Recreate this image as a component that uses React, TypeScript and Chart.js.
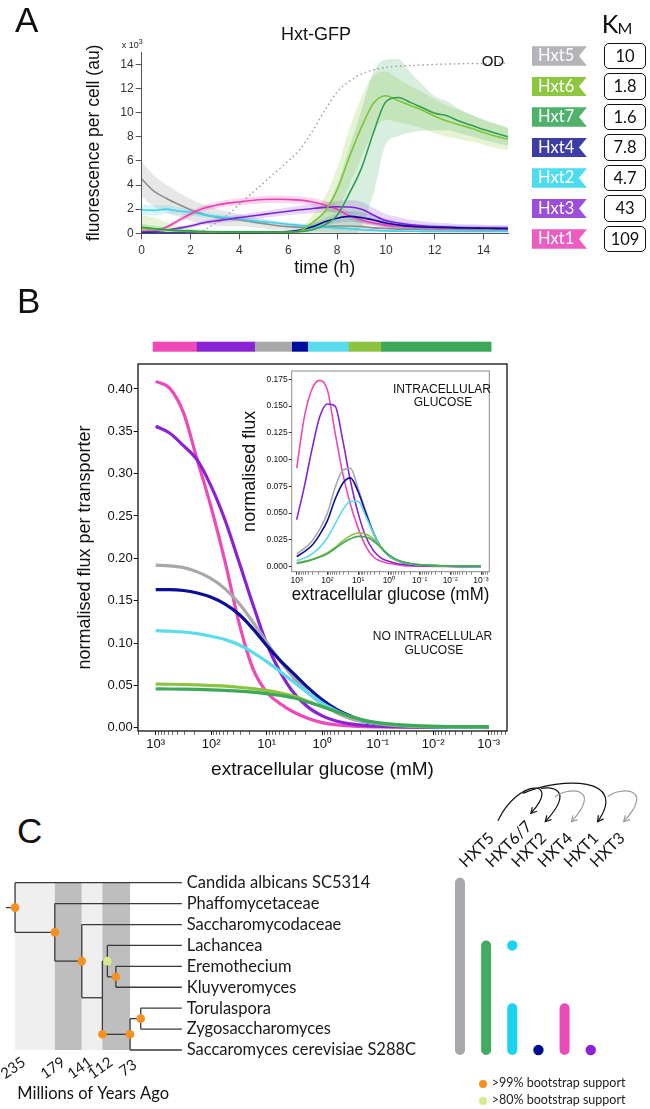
import React, { useEffect, useRef } from 'react';
import { Chart, registerables } from 'chart.js';

Chart.register(...registerables);

const SANS = 'Liberation Sans, Arial, sans-serif';
const LATO = 'Lato, sans-serif';

// ---------------- Panel A : Hxt-GFP time courses ----------------
const hours = [0, 0.5, 1, 1.5, 2, 2.5, 3, 3.5, 4, 4.5, 5, 5.5, 6, 6.5, 7, 7.5, 8, 8.5, 9, 9.5, 10, 10.5, 11, 11.5, 12, 12.5, 13, 13.5, 14, 14.5, 15];
const timeTicks = [0, 2, 4, 6, 8, 10, 12, 14];
const gfpTicks = [0, 2, 4, 6, 8, 10, 12, 14];

const gfpHxt5 = [4.5, 3.5, 2.9, 2.4, 1.95, 1.6, 1.35, 1.2, 1.1, 0.95, 0.8, 0.65, 0.55, 0.5, 0.5, 0.55, 0.6, 0.6, 0.55, 0.45, 0.4, 0.35, 0.35, 0.33, 0.32, 0.32, 0.3, 0.3, 0.3, 0.3, 0.3];
const sdHxt5 = [1.4, 1.3, 1.15, 1.0, 0.9, 0.8, 0.7, 0.6, 0.5, 0.45, 0.4, 0.35, 0.3, 0.3, 0.35, 0.45, 0.55, 0.6, 0.5, 0.4, 0.3, 0.25, 0.25, 0.2, 0.2, 0.2, 0.2, 0.2, 0.2, 0.2, 0.2];
const gfpHxt6 = [0.4, 0.3, 0.25, 0.2, 0.15, 0.12, 0.1, 0.1, 0.1, 0.1, 0.1, 0.1, 0.1, 0.2, 0.9, 1.8, 3.6, 6.3, 8.8, 10.8, 11.4, 11.0, 10.6, 10.2, 9.7, 9.3, 9.0, 8.7, 8.35, 8.05, 7.8];
const sdHxt6 = [1.1, 1.0, 0.7, 0.45, 0.3, 0.2, 0.15, 0.1, 0.1, 0.1, 0.1, 0.1, 0.1, 0.2, 0.6, 1.2, 1.8, 2.3, 2.5, 2.3, 2.0, 1.8, 1.6, 1.5, 1.4, 1.3, 1.2, 1.1, 1.0, 1.0, 0.9];
const gfpHxt7 = [0.5, 0.4, 0.3, 0.22, 0.2, 0.15, 0.12, 0.12, 0.12, 0.12, 0.12, 0.12, 0.12, 0.15, 0.3, 0.7, 1.5, 3.3, 5.4, 8.4, 10.9, 11.25, 10.85, 10.4, 9.95, 9.75, 9.3, 8.95, 8.6, 8.3, 8.0];
const sdHxt7 = [0.3, 0.25, 0.2, 0.15, 0.12, 0.1, 0.1, 0.1, 0.1, 0.1, 0.1, 0.1, 0.1, 0.2, 0.5, 1.2, 2.5, 3.8, 4.8, 5.0, 3.5, 3.2, 2.5, 1.9, 1.4, 1.2, 1.0, 0.9, 0.85, 0.8, 0.75];
const gfpHxt4 = [0.02, 0.02, 0.02, 0.02, 0.02, 0.02, 0.02, 0.02, 0.02, 0.03, 0.05, 0.08, 0.14, 0.28, 0.55, 0.95, 1.25, 1.4, 1.3, 1.1, 0.85, 0.7, 0.58, 0.52, 0.5, 0.48, 0.45, 0.44, 0.42, 0.41, 0.4];
const sdHxt4 = [0.05, 0.05, 0.05, 0.05, 0.05, 0.05, 0.05, 0.05, 0.05, 0.06, 0.08, 0.1, 0.12, 0.18, 0.25, 0.32, 0.4, 0.45, 0.45, 0.4, 0.35, 0.3, 0.25, 0.22, 0.2, 0.2, 0.2, 0.2, 0.2, 0.2, 0.2];
const gfpHxt2 = [1.95, 1.9, 2.0, 1.85, 1.75, 1.55, 1.4, 1.3, 1.2, 1.05, 0.95, 0.85, 0.75, 0.65, 0.55, 0.5, 0.45, 0.38, 0.3, 0.25, 0.2, 0.18, 0.17, 0.16, 0.15, 0.15, 0.15, 0.15, 0.15, 0.15, 0.15];
const sdHxt2 = [0.45, 0.4, 0.35, 0.3, 0.28, 0.25, 0.22, 0.2, 0.2, 0.18, 0.17, 0.16, 0.15, 0.15, 0.15, 0.15, 0.15, 0.12, 0.1, 0.1, 0.08, 0.08, 0.08, 0.08, 0.08, 0.08, 0.08, 0.08, 0.08, 0.08, 0.08];
const gfpHxt3 = [0.12, 0.15, 0.25, 0.42, 0.6, 0.85, 1.02, 1.15, 1.3, 1.43, 1.57, 1.7, 1.83, 1.95, 2.05, 2.15, 2.2, 2.18, 2.0, 1.5, 1.05, 0.85, 0.7, 0.62, 0.55, 0.52, 0.48, 0.45, 0.43, 0.41, 0.4];
const sdHxt3 = [0.1, 0.1, 0.1, 0.12, 0.15, 0.18, 0.2, 0.22, 0.25, 0.27, 0.28, 0.3, 0.32, 0.35, 0.38, 0.42, 0.48, 0.55, 0.6, 0.6, 0.55, 0.5, 0.42, 0.38, 0.35, 0.32, 0.3, 0.3, 0.28, 0.28, 0.28];
const gfpHxt1 = [0.15, 0.2, 0.5, 1.05, 1.6, 2.05, 2.3, 2.5, 2.6, 2.72, 2.8, 2.82, 2.8, 2.75, 2.6, 2.35, 2.0, 1.45, 1.1, 0.85, 0.7, 0.6, 0.55, 0.5, 0.45, 0.44, 0.42, 0.41, 0.4, 0.4, 0.4];
const sdHxt1 = [0.1, 0.1, 0.15, 0.2, 0.22, 0.25, 0.27, 0.28, 0.3, 0.3, 0.3, 0.3, 0.3, 0.3, 0.32, 0.35, 0.35, 0.3, 0.25, 0.2, 0.18, 0.15, 0.15, 0.15, 0.15, 0.15, 0.15, 0.15, 0.15, 0.15, 0.15];
const odCurve = [null, null, null, null, null, 0.2, 0.8, 1.5, 2.4, 3.3, 4.2, 5.1, 6.0, 7.0, 8.5, 10.2, 11.7, 12.6, 13.2, 13.55, 13.75, 13.85, 13.9, 13.95, 14.0, 14.02, 14.05, 14.07, 14.08, 14.09, 14.1];

const seriesA = [
  { values: gfpHxt7, sd: sdHxt7, color: '#2f9f52', band: 'rgba(60,170,90,0.2)' },
  { values: gfpHxt6, sd: sdHxt6, color: '#7cc635', band: 'rgba(140,200,60,0.22)' },
  { values: gfpHxt4, sd: sdHxt4, color: '#0c0c9a', band: 'rgba(20,20,160,0.14)' },
  { values: gfpHxt3, sd: sdHxt3, color: '#7d22d8', band: 'rgba(140,60,220,0.2)' },
  { values: gfpHxt1, sd: sdHxt1, color: '#ec3fb2', band: 'rgba(236,70,180,0.22)' },
  { values: gfpHxt2, sd: sdHxt2, color: '#3fd3ea', band: 'rgba(70,215,235,0.22)' },
  { values: gfpHxt5, sd: sdHxt5, color: '#8e8e8e', band: 'rgba(160,160,160,0.25)' },
];

const tagNames = ['Hxt5', 'Hxt6', 'Hxt7', 'Hxt4', 'Hxt2', 'Hxt3', 'Hxt1'];
const tagColors = ['#b4b4b9', '#8dc63f', '#4fb26b', '#3d3da8', '#4edcf0', '#9b4ddc', '#ec5dc0'];
const kmValues = ['10', '1.8', '1.6', '7.8', '4.7', '43', '109'];

// ---------------- Panel B : flux vs extracellular glucose ----------------
const glucoseMM = [1000, 562, 316, 178, 100, 56.2, 31.6, 17.8, 10, 5.62, 3.16, 1.78, 1, 0.562, 0.316, 0.178, 0.1, 0.0316, 0.01, 0.001];
const fluxTicks = [0, 0.05, 0.1, 0.15, 0.2, 0.25, 0.3, 0.35, 0.4];
const insetTicks = [0, 0.025, 0.05, 0.075, 0.1, 0.125, 0.15, 0.175];

const fluxHxt1 = [0.409, 0.401, 0.372, 0.316, 0.26, 0.196, 0.124, 0.07, 0.042, 0.028, 0.018, 0.011, 0.006, 0.0035, 0.002, 0.0013, 0.001, 0.0006, 0.0004, 0.0002];
const fluxHxt3 = [0.356, 0.348, 0.333, 0.316, 0.285, 0.245, 0.196, 0.146, 0.099, 0.065, 0.04, 0.024, 0.014, 0.008, 0.0045, 0.0028, 0.0017, 0.0008, 0.0005, 0.0003];
const fluxHxt5 = [0.192, 0.191, 0.189, 0.184, 0.176, 0.164, 0.147, 0.125, 0.101, 0.078, 0.058, 0.041, 0.028, 0.018, 0.011, 0.007, 0.0045, 0.002, 0.001, 0.0005];
const fluxHxt4 = [0.163, 0.163, 0.162, 0.159, 0.154, 0.146, 0.134, 0.117, 0.097, 0.079, 0.063, 0.047, 0.033, 0.022, 0.014, 0.008, 0.005, 0.002, 0.001, 0.0005];
const fluxHxt2 = [0.1146, 0.114, 0.113, 0.111, 0.108, 0.104, 0.098, 0.089, 0.078, 0.066, 0.053, 0.041, 0.029, 0.02, 0.013, 0.008, 0.005, 0.002, 0.001, 0.0005];
const fluxHxt6 = [0.0515, 0.0513, 0.051, 0.0505, 0.0498, 0.049, 0.0478, 0.0462, 0.044, 0.041, 0.037, 0.031, 0.025, 0.019, 0.013, 0.0085, 0.0055, 0.0025, 0.0015, 0.001];
const fluxHxt7 = [0.0458, 0.0457, 0.0455, 0.0452, 0.0447, 0.044, 0.0432, 0.042, 0.0403, 0.038, 0.035, 0.03, 0.025, 0.019, 0.0135, 0.009, 0.006, 0.003, 0.0017, 0.0012];

const insetHxt1 = [0.092, 0.14, 0.166, 0.174, 0.165, 0.125, 0.087, 0.058, 0.036, 0.019, 0.009, 0.005, 0.003, 0.002, 0.001, 0.0007, 0.0005, 0.0003, 0.0002, 0.0001];
const insetHxt3 = [0.044, 0.075, 0.11, 0.14, 0.152, 0.15, 0.118, 0.08, 0.05, 0.028, 0.015, 0.008, 0.005, 0.003, 0.002, 0.0012, 0.0008, 0.0004, 0.0003, 0.0001];
const insetHxt5 = [0.012, 0.017, 0.024, 0.035, 0.05, 0.074, 0.09, 0.092, 0.073, 0.052, 0.032, 0.018, 0.01, 0.006, 0.004, 0.0025, 0.0015, 0.001, 0.0005, 0.0002];
const insetHxt4 = [0.0095, 0.014, 0.02, 0.03, 0.043, 0.063, 0.078, 0.083, 0.07, 0.05, 0.031, 0.018, 0.01, 0.006, 0.0035, 0.0022, 0.0015, 0.001, 0.0005, 0.0002];
const insetHxt2 = [0.0056, 0.008, 0.012, 0.018, 0.027, 0.04, 0.053, 0.061, 0.061, 0.047, 0.031, 0.018, 0.01, 0.006, 0.0035, 0.0022, 0.0015, 0.001, 0.0005, 0.0002];
const insetHxt6 = [0.0035, 0.005, 0.007, 0.0095, 0.013, 0.018, 0.024, 0.029, 0.0315, 0.0305, 0.026, 0.018, 0.011, 0.0065, 0.004, 0.0025, 0.0018, 0.001, 0.0006, 0.0003];
const insetHxt7 = [0.003, 0.0045, 0.0065, 0.009, 0.012, 0.017, 0.022, 0.026, 0.0283, 0.0278, 0.024, 0.0175, 0.011, 0.0068, 0.0042, 0.0027, 0.0019, 0.0011, 0.0007, 0.0004];

const colPink = '#ee48b9';
const colPurple = '#8a22d6';
const colGray = '#a8a8a8';
const colNavy = '#0a0e98';
const colCyan = '#5adcec';
const colLime = '#8cc43f';
const colGreen = '#3ea85a';

const mainSeries = [
  { values: fluxHxt7, color: colGreen },
  { values: fluxHxt6, color: colLime },
  { values: fluxHxt2, color: colCyan },
  { values: fluxHxt4, color: colNavy },
  { values: fluxHxt5, color: colGray },
  { values: fluxHxt3, color: colPurple },
  { values: fluxHxt1, color: colPink },
];
const insetSeries = [
  { values: insetHxt7, color: colGreen },
  { values: insetHxt6, color: colLime },
  { values: insetHxt2, color: colCyan },
  { values: insetHxt4, color: colNavy },
  { values: insetHxt5, color: colGray },
  { values: insetHxt3, color: colPurple },
  { values: insetHxt1, color: colPink },
];

// dominant transporter bar above panel B (edges in mM)
const barEdges = [1132, 182, 16.3, 3.5, 1.8, 0.333, 0.087, 0.00091];
const barColors = [colPink, colPurple, colGray, '#000c9c', colCyan, colLime, colGreen];

// ---------------- Panel C : phylogeny and HXT presence ----------------
const taxa = ['Candida albicans SC5314', 'Phaffomycetaceae', 'Saccharomycodaceae', 'Lachancea', 'Eremothecium', 'Kluyveromyces', 'Torulaspora', 'Zygosaccharomyces', 'Saccaromyces cerevisiae S288C'];
// [fromMya, fromRow, toMya, toRow]
const treeEdges = [
  [235, 0, 0, 0], [179, 1, 0, 1], [141, 2, 0, 2], [105, 3, 0, 3], [93, 4, 0, 4], [93, 5, 0, 5], [58, 6, 0, 6], [58, 7, 0, 7], [73, 8, 0, 8],
  [235, 0, 235, 2.375], [179, 1, 179, 3.75], [141, 2, 141, 5.5], [112, 3.75, 112, 7.25], [105, 3, 105, 4.5], [93, 4, 93, 5], [73, 6.5, 73, 8], [58, 6, 58, 7],
  [248, 1.19, 235, 1.19], [235, 2.375, 179, 2.375], [179, 3.75, 141, 3.75], [141, 5.5, 112, 5.5], [112, 3.75, 105, 3.75], [105, 4.5, 93, 4.5], [112, 7.25, 73, 7.25], [73, 6.5, 58, 6.5],
];
// [Mya, row, bootstrap %]
const treeNodes = [[235, 1.19, 99], [179, 2.375, 99], [141, 3.75, 99], [105, 3.75, 80], [93, 4.5, 99], [112, 7.25, 99], [73, 7.25, 99], [58, 6.5, 99]];
const eraTicks = [235, 179, 141, 112, 73];
const eraShades = ['#efefef', '#bebebe', '#efefef', '#bebebe'];

const geneNames = ['HXT5', 'HXT6/7', 'HXT2', 'HXT4', 'HXT1', 'HXT3'];
const geneColors = ['#a7a8ac', '#43ab5f', '#19d3ef', '#000c8f', '#e94cb8', '#8b22d5'];
// [gene, fromRow, toRow]
const geneSpans = [[0, 0, 8], [1, 3, 8], [2, 6, 8], [4, 6, 8]];
// [gene, row]
const geneDots = [[2, 3], [3, 8], [5, 8]];
// [fromGene, toGene, kind]
const duplicationLinks = [[0, 1, 'major'], [1, 2, 'major'], [2, 3, 'minor'], [1, 4, 'major'], [4, 5, 'minor']];

// ---------------- helpers ----------------
const SUP: Record<string, string> = { '-': '⁻', '0': '⁰', '1': '¹', '2': '²', '3': '³', '4': '⁴', '5': '⁵', '6': '⁶', '7': '⁷', '8': '⁸', '9': '⁹' };
const pow10Label = (v: number) => '10' + String(Math.round(Math.log10(v))).split('').map((c) => SUP[c]).join('');
const decadeExps = [-4, -3, -2, -1, 0, 1, 2, 3];
function buildLogTicks(ax: any) {
  const out: any[] = [];
  decadeExps.forEach((e) => {
    for (let m = 1; m < 10; m++) {
      const v = m * Math.pow(10, e);
      if (v >= ax.min && v <= ax.max) out.push({ value: v, major: m === 1 });
    }
  });
  ax.ticks = out;
}
const logLabel = (v: any, i: number, ticks: any[]) => (ticks[i] && ticks[i].major ? pow10Label(Number(v)) : '');
const tickWidthFn = (c: any) => (c.tick && c.tick.major ? 1 : 0.6);

const base = {
  responsive: false,
  animation: false,
  events: [],
  plugins: { legend: { display: false }, tooltip: { enabled: false } },
};

const framePlugin = (color: string, width: number) => ({
  id: 'frame',
  afterDraw(chart: any) {
    const { ctx, chartArea: a } = chart;
    ctx.save();
    ctx.strokeStyle = color;
    ctx.lineWidth = width;
    ctx.strokeRect(a.left, a.top, a.right - a.left, a.bottom - a.top);
    ctx.restore();
  },
});

function makeA() {
  const datasets: any[] = [];
  seriesA.forEach((s) =>
    datasets.push({
      data: hours.map((t, i) => ({ x: t, y: s.values[i] })),
      borderColor: s.color, borderWidth: 1.6, pointRadius: 0, cubicInterpolationMode: 'monotone', fill: false, order: 0,
    })
  );
  datasets.push({
    data: hours.map((t, i) => ({ x: t, y: odCurve[i] })),
    borderColor: '#9c9c9c', borderWidth: 1.4, borderDash: [1.5, 3], pointRadius: 0, fill: false, order: 0, cubicInterpolationMode: 'monotone',
  });
  seriesA.forEach((s) => {
    datasets.push({
      data: hours.map((t, i) => ({ x: t, y: s.values[i] + s.sd[i] })),
      borderColor: 'transparent', borderWidth: 0, pointRadius: 0, fill: '+1', backgroundColor: s.band, order: 1, cubicInterpolationMode: 'monotone',
    });
    datasets.push({
      data: hours.map((t, i) => ({ x: t, y: s.values[i] - s.sd[i] })),
      borderColor: 'transparent', borderWidth: 0, pointRadius: 0, fill: false, order: 1, cubicInterpolationMode: 'monotone',
    });
  });
  return {
    type: 'line',
    data: { datasets },
    options: {
      ...base,
      layout: { padding: { left: 0, right: 12, top: 52.3, bottom: 11.2 } },
      scales: {
        x: {
          type: 'linear', min: 0, max: 15,
          afterBuildTicks: (ax: any) => { ax.ticks = timeTicks.map((v) => ({ value: v })); },
          ticks: { autoSkip: false, maxRotation: 0, font: { family: SANS, size: 12 }, color: '#333', padding: 4 },
          grid: { display: true, drawOnChartArea: false, drawTicks: true, tickLength: 6, color: '#555' },
          border: { display: true, color: '#555', width: 1 },
          title: { display: true, text: 'time (h)', font: { family: SANS, size: 18 }, color: '#111', padding: { top: 0, bottom: 0 } },
          afterFit: (ax: any) => { ax.height = 45.5; },
        },
        y: {
          type: 'linear', min: 0, max: 15,
          afterBuildTicks: (ax: any) => { ax.ticks = gfpTicks.map((v) => ({ value: v })); },
          ticks: { autoSkip: false, font: { family: SANS, size: 12 }, color: '#333', padding: 2 },
          grid: { display: true, drawOnChartArea: false, drawTicks: true, tickLength: 6, color: '#555' },
          border: { display: true, color: '#555', width: 1 },
          title: { display: true, text: 'fluorescence per cell (au)', font: { family: SANS, size: 17.5 }, color: '#111', padding: { top: 83.5, bottom: 0 } },
          afterFit: (ax: any) => { ax.width = 141.7; },
        },
      },
    },
  };
}

const dominancePlugin = {
  id: 'dominance',
  afterDraw(chart: any) {
    const { ctx, chartArea } = chart;
    const xs = chart.scales.x;
    const top = chartArea.top - 22.3;
    ctx.save();
    barColors.forEach((c, i) => {
      const a = xs.getPixelForValue(barEdges[i]);
      const b = xs.getPixelForValue(barEdges[i + 1]);
      ctx.fillStyle = c;
      ctx.fillRect(Math.min(a, b), top, Math.abs(b - a) + 0.5, 10);
    });
    ctx.restore();
  },
};

function makeB() {
  return {
    type: 'line',
    data: {
      datasets: mainSeries.map((s) => ({
        data: glucoseMM.map((g, i) => ({ x: g, y: s.values[i] })),
        borderColor: s.color, borderWidth: 3.2, pointRadius: 0, cubicInterpolationMode: 'monotone', fill: false,
      })),
    },
    options: {
      ...base,
      layout: { padding: { left: 0, right: 13, top: 44, bottom: 18.6 } },
      scales: {
        x: {
          type: 'logarithmic', reverse: true, min: 0.000468, max: 2084,
          afterBuildTicks: buildLogTicks,
          ticks: { autoSkip: false, maxRotation: 0, font: { family: SANS, size: 13 }, color: '#111', padding: 2, callback: logLabel },
          grid: { display: true, drawOnChartArea: false, drawTicks: true, tickLength: 4, color: '#111', tickWidth: tickWidthFn },
          border: { display: false },
          title: { display: true, text: 'extracellular glucose (mM)', font: { family: SANS, size: 19 }, color: '#111', padding: { top: 0, bottom: 0 } },
          afterFit: (ax: any) => { ax.height = 50.4; },
        },
        y: {
          type: 'linear', min: -0.0039, max: 0.4295,
          afterBuildTicks: (ax: any) => { ax.ticks = fluxTicks.map((v) => ({ value: v })); },
          ticks: { autoSkip: false, font: { family: SANS, size: 13 }, color: '#111', padding: 1, callback: (v: any) => Number(v).toFixed(2) },
          grid: { display: true, drawOnChartArea: false, drawTicks: true, tickLength: 4.3, color: '#111' },
          border: { display: false },
          title: { display: true, text: 'normalised flux per transporter', font: { family: SANS, size: 18 }, color: '#111', padding: { top: 74.7, bottom: 0 } },
          afterFit: (ax: any) => { ax.width = 138; },
        },
      },
    },
    plugins: [framePlugin('#111', 1.3), dominancePlugin],
  };
}

function makeInset() {
  return {
    type: 'line',
    data: {
      datasets: insetSeries.map((s) => ({
        data: glucoseMM.map((g, i) => ({ x: g, y: s.values[i] })),
        borderColor: s.color, borderWidth: 1.6, pointRadius: 0, cubicInterpolationMode: 'monotone', fill: false,
      })),
    },
    options: {
      ...base,
      layout: { padding: { left: 0, right: 10.7, top: 11, bottom: 3.9 } },
      scales: {
        x: {
          type: 'logarithmic', reverse: true, min: 0.000537, max: 1455,
          afterBuildTicks: buildLogTicks,
          ticks: { autoSkip: false, maxRotation: 0, font: { family: SANS, size: 8.5 }, color: '#111', padding: 1, callback: logLabel },
          grid: { display: true, drawOnChartArea: false, drawTicks: true, tickLength: 3, color: '#333', tickWidth: tickWidthFn },
          border: { display: false },
          title: { display: true, text: 'extracellular glucose (mM)', font: { family: SANS, size: 18.5 }, color: '#111', padding: { top: 0, bottom: 0 } },
          afterFit: (ax: any) => { ax.height = 34.4; },
        },
        y: {
          type: 'linear', min: -0.0047, max: 0.1828,
          afterBuildTicks: (ax: any) => { ax.ticks = insetTicks.map((v) => ({ value: v })); },
          ticks: { autoSkip: false, font: { family: SANS, size: 8.5 }, color: '#111', padding: 1, callback: (v: any) => Number(v).toFixed(3) },
          grid: { display: true, drawOnChartArea: false, drawTicks: true, tickLength: 3, color: '#333' },
          border: { display: false },
          title: { display: true, text: 'normalised flux', font: { family: SANS, size: 18 }, color: '#111', padding: { top: 9.2, bottom: 0 } },
          afterFit: (ax: any) => { ax.width = 61.7; },
        },
      },
    },
    plugins: [framePlugin('#8a8a8a', 1)],
  };
}

const eraPlugin = {
  id: 'eras',
  beforeDatasetsDraw(chart: any) {
    const { ctx, chartArea } = chart;
    const xs = chart.scales.x;
    ctx.save();
    eraShades.forEach((c, i) => {
      const a = xs.getPixelForValue(eraTicks[i]);
      const b = xs.getPixelForValue(eraTicks[i + 1]);
      ctx.fillStyle = c;
      ctx.fillRect(Math.min(a, b), chartArea.top, Math.abs(b - a), chartArea.bottom - chartArea.top);
    });
    ctx.restore();
  },
  afterDraw(chart: any) {
    const { ctx, chartArea } = chart;
    const xs = chart.scales.x;
    ctx.save();
    ctx.font = `15px ${LATO}`;
    ctx.fillStyle = '#1a1a1a';
    ctx.textAlign = 'center';
    ctx.textBaseline = 'middle';
    eraTicks.forEach((v) => {
      ctx.save();
      ctx.translate(xs.getPixelForValue(v) - 2, chartArea.bottom + 18);
      ctx.rotate(-35 * Math.PI / 180);
      ctx.fillText(String(v), 0, 0);
      ctx.restore();
    });
    ctx.restore();
  },
};

function makeTree() {
  const datasets: any[] = [
    {
      data: treeNodes.map((n) => ({ x: n[0], y: n[1] })),
      showLine: false, pointRadius: 4.3,
      pointBackgroundColor: treeNodes.map((n) => (n[2] >= 99 ? '#f7901e' : '#d6ec8c')),
      pointBorderColor: treeNodes.map((n) => (n[2] >= 99 ? '#f7901e' : '#d6ec8c')),
      pointBorderWidth: 0, clip: false,
    },
  ];
  treeEdges.forEach((e) =>
    datasets.push({
      data: [{ x: e[0], y: e[1] }, { x: e[2], y: e[3] }],
      showLine: true, borderColor: '#3a3a3a', borderWidth: 1.3, pointRadius: 0, clip: false,
    })
  );
  return {
    type: 'scatter',
    data: { datasets },
    options: {
      ...base,
      layout: { padding: { left: 4.4, right: 0, top: 22.7, bottom: 5 } },
      scales: {
        x: {
          type: 'linear', reverse: true, min: 0, max: 250,
          ticks: { display: false },
          grid: { display: false, drawTicks: false },
          border: { display: false },
          title: { display: true, text: 'Millions of Years Ago', font: { family: LATO, size: 16.5 }, color: '#111', padding: { top: 0, bottom: 0 } },
          afterFit: (ax: any) => { ax.height = 54; },
        },
        y: {
          type: 'linear', position: 'right', reverse: true, min: 0, max: 8,
          afterBuildTicks: (ax: any) => { ax.ticks = taxa.map((_, i) => ({ value: i })); },
          ticks: { autoSkip: false, font: { family: LATO, size: 16.5 }, color: '#1a1a1a', padding: 4.8, callback: (v: any) => taxa[Number(v)] },
          grid: { display: false, drawTicks: false },
          border: { display: false },
          afterFit: (ax: any) => { ax.width = 258.1; },
        },
      },
    },
    plugins: [eraPlugin],
  };
}

const geneLabelPlugin = {
  id: 'geneLabels',
  afterDraw(chart: any) {
    const { ctx, chartArea } = chart;
    const xs = chart.scales.x;
    ctx.save();
    ctx.font = `16px ${LATO}`;
    ctx.fillStyle = '#111';
    ctx.textAlign = 'left';
    ctx.textBaseline = 'alphabetic';
    const ends: { x: number; y: number }[] = [];
    geneNames.forEach((name, i) => {
      const x = xs.getPixelForValue(i) + 5.8;
      const y = chartArea.top - 14.4;
      ctx.save();
      ctx.translate(x, y);
      ctx.rotate(-Math.PI / 4);
      ctx.fillText(name, 0, 0);
      ctx.restore();
      const w = ctx.measureText(name).width;
      ends.push({ x: x + w * Math.SQRT1_2, y: y - w * Math.SQRT1_2 });
    });
    const heads = ends.map((e) => ({ x: e.x - 2, y: Math.min(e.y - 14, chartArea.top - 61) }));
    duplicationLinks.forEach(([a, b, kind]: any) => {
      const span = b - a;
      let t;
      if (a === 0) t = { x: ends[0].x + 3, y: Math.min(ends[0].y - 18, chartArea.top - 62) };
      else if (span > 1) t = { x: heads[a].x - 8, y: heads[a].y - 20 };
      else t = { x: heads[a].x + 10, y: heads[a].y - 25 };
      const h = heads[b];
      const top = h.y - (30 + 5 * span);
      const c1 = { x: t.x + (h.x - t.x) * 0.45 + 5, y: top };
      const c2 = { x: h.x + 32, y: top };
      ctx.strokeStyle = kind === 'major' ? '#111' : '#9a9a9a';
      ctx.lineWidth = 1.2;
      ctx.beginPath();
      ctx.moveTo(t.x, t.y);
      ctx.bezierCurveTo(c1.x, c1.y, c2.x, c2.y, h.x, h.y);
      ctx.stroke();
      const ang = Math.atan2(h.y - c2.y, h.x - c2.x);
      ctx.beginPath();
      ctx.moveTo(h.x - 6.5 * Math.cos(ang - 0.5), h.y - 6.5 * Math.sin(ang - 0.5));
      ctx.lineTo(h.x, h.y);
      ctx.lineTo(h.x - 6.5 * Math.cos(ang + 0.5), h.y - 6.5 * Math.sin(ang + 0.5));
      ctx.stroke();
    });
    ctx.restore();
  },
};

function makeGenes() {
  const datasets: any[] = [];
  geneSpans.forEach((s) =>
    datasets.push({
      data: [{ x: s[0], y: s[1] }, { x: s[0], y: s[2] }],
      showLine: true, borderColor: geneColors[s[0]], borderWidth: 10, borderCapStyle: 'round', pointRadius: 0, clip: false,
    })
  );
  geneDots.forEach((d) =>
    datasets.push({
      data: [{ x: d[0], y: d[1] }],
      showLine: false, pointRadius: 5.2, pointBackgroundColor: geneColors[d[0]], pointBorderColor: geneColors[d[0]], pointBorderWidth: 0, clip: false,
    })
  );
  return {
    type: 'scatter',
    data: { datasets },
    options: {
      ...base,
      layout: { padding: { left: 6.9, right: 46.2, top: 102.7, bottom: 59 } },
      scales: {
        x: { type: 'linear', min: -0.5, max: 5.5, display: false },
        y: { type: 'linear', reverse: true, min: 0, max: 8, display: false },
      },
    },
    plugins: [geneLabelPlugin],
  };
}

function ChartBox({ left, top, width, height, make }: any) {
  const ref = useRef<HTMLCanvasElement>(null);
  useEffect(() => {
    const chart = new Chart(ref.current as HTMLCanvasElement, make());
    return () => chart.destroy();
  }, []);
  return <canvas ref={ref} width={width} height={height} style={{ position: 'absolute', left, top, width, height }} />;
}

function T({ x, y, size, family = SANS, anchor = 'start', color = '#111', children }: any) {
  const asc = family === LATO ? 0.887 : 0.846;
  const tx = anchor === 'middle' ? 'translateX(-50%)' : anchor === 'end' ? 'translateX(-100%)' : undefined;
  return (
    <div style={{ position: 'absolute', left: x, top: y - asc * size, fontFamily: family, fontSize: size, lineHeight: `${size}px`, whiteSpace: 'nowrap', color, transform: tx }}>
      {children}
    </div>
  );
}

export default function App() {
  return (
    <div style={{ position: 'absolute', left: 0, top: 0, width: 650, height: 1109, background: '#fff', overflow: 'hidden' }}>
      <ChartBox left={0} top={0} width={520} height={290} make={makeA} />
      <ChartBox left={0} top={320} width={520} height={480} make={makeB} />
      <ChartBox left={230} top={360} width={270} height={250} make={makeInset} />
      <ChartBox left={0} top={860} width={440} height={249} make={makeTree} />
      <ChartBox left={440} top={770} width={210} height={339} make={makeGenesShifted} />

      {/* panel letters */}
      <T x={15} y={31.7} size={35}>A</T>
      <T x={17} y={313} size={35}>B</T>
      <T x={17} y={843} size={35}>C</T>

      {/* panel A annotations */}
      <T x={316} y={40} size={18} anchor="middle">Hxt-GFP</T>
      <T x={121.7} y={45} size={9} color="#222">x 10<span style={{ fontSize: 7, verticalAlign: '4px' }}>3</span></T>
      <T x={481.7} y={65.7} size={15}>OD</T>
      <T x={601.7} y={33} size={25} family={LATO}>K</T>
      <T x={617.5} y={34.5} size={16} family={LATO}>M</T>
      {tagNames.map((n, i) => (
        <div key={n} style={{ position: 'absolute', left: 532, top: 56 + i * 30.5 - 9.75, width: 55, height: 19.5, background: tagColors[i], clipPath: 'polygon(0 0, 100% 0, calc(100% - 8px) 50%, 100% 100%, 0 100%)', color: '#fff', fontFamily: LATO, fontSize: 16.5, lineHeight: '19.5px', paddingLeft: 6, boxSizing: 'border-box' }}>
          {n}
        </div>
      ))}
      {kmValues.map((k, i) => (
        <div key={k} style={{ position: 'absolute', left: 604, top: 56 + i * 30.5 - 13.3, width: 42, height: 26.6, border: '1.3px solid #111', borderRadius: 5, boxSizing: 'border-box', textAlign: 'center', fontFamily: LATO, fontSize: 16.5, lineHeight: '24px', color: '#111' }}>
          {k}
        </div>
      ))}

      {/* panel B annotations */}
      <T x={442} y={393} size={12} anchor="middle">INTRACELLULAR</T>
      <T x={443} y={406.3} size={12} anchor="middle">GLUCOSE</T>
      <T x={432.5} y={640} size={12} anchor="middle">NO INTRACELLULAR</T>
      <T x={433.8} y={654} size={12} anchor="middle">GLUCOSE</T>

      {/* panel C legend */}
      <div style={{ position: 'absolute', left: 479.3, top: 1080, width: 8, height: 8, borderRadius: 4, background: '#f7901e' }} />
      <div style={{ position: 'absolute', left: 479.3, top: 1096.7, width: 8, height: 8, borderRadius: 4, background: '#d6ec8c' }} />
      <T x={491.7} y={1088.3} size={12.5} family={LATO} color="#222">&gt;99% bootstrap support</T>
      <T x={491.7} y={1105} size={12.5} family={LATO} color="#222">&gt;80% bootstrap support</T>
    </div>
  );
}

// gene canvas starts 10px higher so the tallest arcs are not clipped
function makeGenesShifted() {
  const cfg: any = makeGenes();
  cfg.options.layout.padding.top = 112.7;
  return cfg;
}
